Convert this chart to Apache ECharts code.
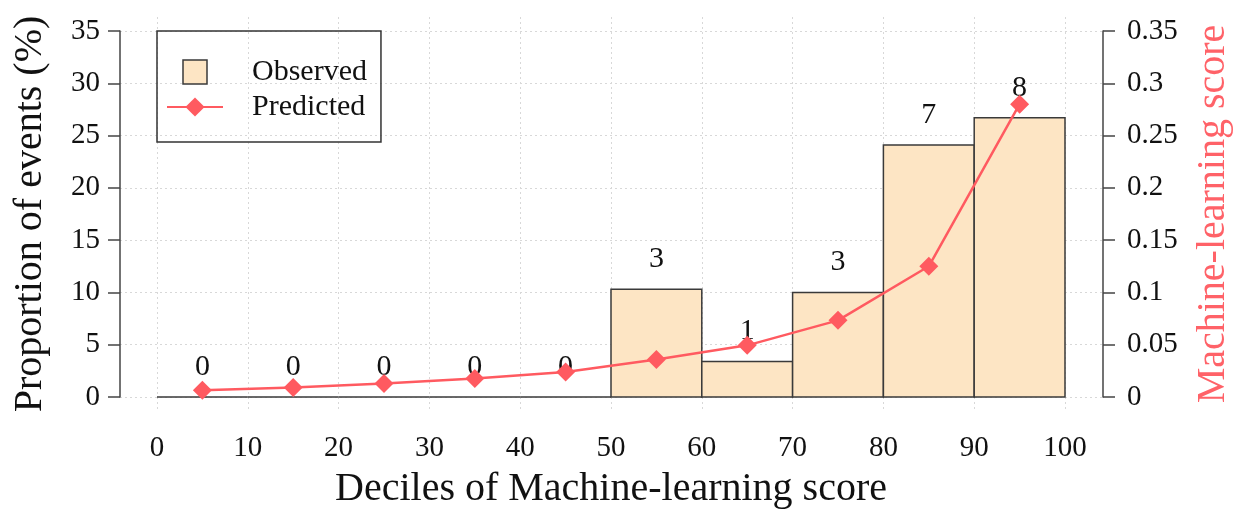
<!DOCTYPE html>
<html>
<head>
<meta charset="utf-8">
<script src="https://cdn.jsdelivr.net/npm/echarts@6/dist/echarts.min.js"></script>
<style>
html,body{margin:0;padding:0;background:#fff;}
#chart{width:1240px;height:518px;}
</style>
</head>
<body>
<div id="chart"></div>
<script>
// ---- data ----
const binStart = [0, 10, 20, 30, 40, 50, 60, 70, 80, 90];
const binEnd = [10, 20, 30, 40, 50, 60, 70, 80, 90, 100];
const observedPct = [0, 0, 0, 0, 0, 10.3, 3.4, 10.0, 24.1, 26.7];
const eventCounts = [0, 0, 0, 0, 0, 3, 1, 3, 7, 8];
const decileMid = [5, 15, 25, 35, 45, 55, 65, 75, 85, 95];
const predictedScore = [0.0064, 0.0092, 0.0128, 0.0176, 0.0239, 0.0358, 0.0494, 0.0733, 0.125, 0.280];

const FONT = '"Liberation Serif", "Times New Roman", serif';
const RED = '#ff5a60';
const TITLE_RED = '#ff6268';
const BAR_FILL = '#fde5c4';
const BAR_EDGE = '#3a3a3a';
const AXIS_COL = '#444';
const GRID_COL = '#d8d8d8';

const barData = binStart.map((s, i) => [s, binEnd[i], observedPct[i], eventCounts[i]]);
const lineData = decileMid.map((m, i) => [m, predictedScore[i]]);

const chart = echarts.init(document.getElementById('chart'), null, {renderer: 'canvas'});

const option = {
  backgroundColor: '#fff',
  animation: false,
  textStyle: {fontFamily: FONT},
  grid: [
    {left: 157, right: 175, top: 31, bottom: 121, containLabel: false, outerBoundsMode: 'none'},
    {left: 157, right: 175, top: 17, bottom: 106, containLabel: false, outerBoundsMode: 'none'},
    {left: 120, right: 137, top: 31, bottom: 121, containLabel: false, outerBoundsMode: 'none'}
  ],
  legend: {
    left: 157, top: 31,
    orient: 'vertical',
    borderColor: '#333', borderWidth: 1.5,
    padding: [26, 14, 20, 9],
    itemWidth: 56, itemHeight: 24, itemGap: 5,
    textStyle: {fontFamily: FONT, fontSize: 30, color: '#111', padding: [0, 0, 0, 24]},
    data: [
      {name: 'Observed', icon: 'path://M0,0h10v10h-10z',
       itemStyle: {color: BAR_FILL, borderColor: BAR_EDGE, borderWidth: 1.5}},
      {name: 'Predicted'}
    ]
  },
  xAxis: [
    {gridIndex: 0, type: 'value', min: 0, max: 100, interval: 10,
     axisLine: {show: false, onZero: false}, axisTick: {show: false}, splitLine: {show: false},
     axisLabel: {fontFamily: FONT, fontSize: 29, color: '#111', margin: 37},
     name: 'Deciles of Machine-learning score', nameLocation: 'middle', nameGap: 72,
     nameTextStyle: {fontFamily: FONT, fontSize: 40, color: '#111'}},
    {gridIndex: 1, type: 'value', min: 0, max: 100, interval: 10,
     axisLine: {show: false}, axisTick: {show: false}, axisLabel: {show: false},
     splitLine: {show: true, lineStyle: {color: GRID_COL, type: [2, 3], width: 1}}},
    {gridIndex: 2, type: 'value', min: 0, max: 1, show: false}
  ],
  yAxis: [
    {gridIndex: 0, type: 'value', min: 0, max: 35, interval: 5, position: 'left', offset: 37,
     axisLine: {show: true, onZero: false, lineStyle: {color: AXIS_COL, width: 1.5}},
     axisTick: {show: true, length: 12, lineStyle: {color: AXIS_COL, width: 1.5}},
     splitLine: {show: false},
     axisLabel: {fontFamily: FONT, fontSize: 29, color: '#111', margin: 20},
     name: 'Proportion of events (%)', nameLocation: 'middle', nameGap: 70, nameRotate: 90,
     nameTextStyle: {fontFamily: FONT, fontSize: 40, color: '#111'}},
    {gridIndex: 0, type: 'value', min: 0, max: 0.35, interval: 0.05, position: 'right', offset: 38,
     axisLine: {show: true, onZero: false, lineStyle: {color: AXIS_COL, width: 1.5}},
     axisTick: {show: true, length: 12, lineStyle: {color: AXIS_COL, width: 1.5}},
     splitLine: {show: false},
     axisLabel: {fontFamily: FONT, fontSize: 29, color: '#111', margin: 24},
     name: 'Machine-learning score', nameLocation: 'middle', nameGap: 90, nameRotate: 90,
     nameTextStyle: {fontFamily: FONT, fontSize: 40, color: TITLE_RED}},
    {gridIndex: 1, type: 'value', min: 0, max: 1, show: false},
    {gridIndex: 2, type: 'value', min: 0, max: 35, interval: 5,
     axisLine: {show: false}, axisTick: {show: false}, axisLabel: {show: false},
     splitLine: {show: true, lineStyle: {color: GRID_COL, type: [2, 3], width: 1}}}
  ],
  series: [
    {
      name: 'Observed', type: 'custom', xAxisIndex: 0, yAxisIndex: 0,
      itemStyle: {color: BAR_FILL, borderColor: BAR_EDGE},
      encode: {x: [0, 1], y: 2},
      data: barData,
      z: 2,
      renderItem: function (params, api) {
        const x0 = api.value(0), x1 = api.value(1), v = api.value(2), n = api.value(3);
        const p0 = api.coord([x0, v]);
        const p1 = api.coord([x1, 0]);
        return {
          type: 'group',
          children: [
            {type: 'rect',
             shape: {x: p0[0], y: p0[1], width: p1[0] - p0[0], height: p1[1] - p0[1]},
             style: {fill: BAR_FILL, stroke: BAR_EDGE, lineWidth: 1.5}},
            {type: 'text',
             style: {text: String(n), x: (p0[0] + p1[0]) / 2, y: p0[1] - 30,
                     align: 'center', verticalAlign: 'middle',
                     font: '30px ' + FONT, fill: '#111'}}
          ]
        };
      }
    },
    {
      name: 'Predicted', type: 'line', xAxisIndex: 0, yAxisIndex: 1,
      data: lineData,
      symbol: 'diamond', symbolSize: 19,
      lineStyle: {color: RED, width: 2.5},
      itemStyle: {color: RED},
      z: 3
    }
  ]
};
chart.setOption(option);
</script>
</body>
</html>
